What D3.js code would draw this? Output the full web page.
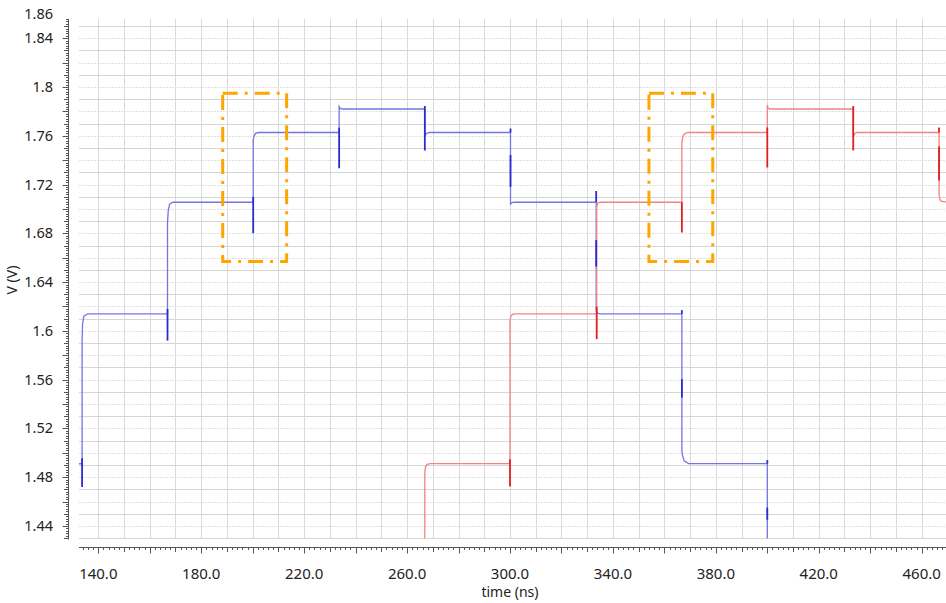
<!DOCTYPE html>
<html>
<head>
<meta charset="utf-8">
<script src="https://d3js.org/d3.v7.min.js"></script>
<style>
  html, body { margin: 0; padding: 0; background: #ffffff; }
  svg { display: block; font-family: "Noto Sans", "DejaVu Sans", sans-serif; }
</style>
</head>
<body>
<div id="chart"></div>
<script>
// Transient sim: two staircase node voltages, V vs time (ns).

// Tick labels
var xTickVals = [140, 180, 220, 260, 300, 340, 380, 420, 460];
var yTickVals = [1.44, 1.48, 1.52, 1.56, 1.6, 1.64, 1.68, 1.72, 1.76, 1.8, 1.84, 1.86];

// Blue trace (time ns, volts)
var blueT = [132.5, 133.7, 133.7, 133.9, 134.4, 136.0,
             166.9, 166.9, 167.2, 167.7, 169.0,
             200.2, 200.2, 200.5, 201.1, 202.2,
             233.6, 233.6, 234.0, 235.0,
             266.9, 266.9, 267.3, 268.5,
             300.2, 300.2, 300.6, 301.5,
             333.5, 333.5, 333.9, 335.0,
             366.8, 366.8, 367.1, 367.7, 369.4,
             400.0, 400.0];
var blueV = [1.491, 1.491, 1.593, 1.606, 1.612, 1.614,
             1.614, 1.6886, 1.699, 1.704, 1.7055,
             1.7055, 1.7567, 1.7595, 1.762, 1.7627,
             1.7627, 1.784, 1.7825, 1.782,
             1.782, 1.7591, 1.7615, 1.7627,
             1.7627, 1.704, 1.705, 1.7055,
             1.7055, 1.6165, 1.6145, 1.614,
             1.614, 1.501, 1.4975, 1.4934, 1.4911,
             1.4911, 1.40];

// Blue glitches at each switch: [time, low, high]
var blueSpikes = [
  [133.7, 1.472, 1.4955],
  [166.9, 1.592, 1.618],
  [200.2, 1.680, 1.710],
  [233.6, 1.7334, 1.7667],
  [266.9, 1.748, 1.7845],
  [300.2, 1.7627, 1.766],
  [300.2, 1.7183, 1.7443],
  [333.5, 1.7055, 1.7148],
  [333.5, 1.6527, 1.6746],
  [366.8, 1.614, 1.617],
  [366.8, 1.5453, 1.5604],
  [400.0, 1.4911, 1.494],
  [400.0, 1.445, 1.455]
];

// Red trace
var redT = [266.9, 266.9, 267.2, 267.8, 269.0,
            300.0, 300.0, 300.3, 301.0, 302.0,
            333.7, 333.7, 334.2, 335.0,
            366.8, 366.8, 367.1, 367.7, 369.0,
            400.0, 400.0, 400.3, 401.2,
            433.4, 433.4, 433.8, 434.8,
            466.75, 466.75, 467.1, 467.8, 469.5];
var redV = [1.40, 1.484, 1.4885, 1.4905, 1.4911,
            1.4911, 1.6085, 1.612, 1.6135, 1.614,
            1.614, 1.702, 1.705, 1.7055,
            1.7055, 1.754, 1.759, 1.7615, 1.7627,
            1.7627, 1.7853, 1.7825, 1.782,
            1.782, 1.7591, 1.7615, 1.7627,
            1.7627, 1.712, 1.7075, 1.7062, 1.7058];

var redSpikes = [
  [300.0, 1.4723, 1.4947],
  [333.7, 1.5932, 1.6199],
  [366.8, 1.6806, 1.7055],
  [400.0, 1.734, 1.7668],
  [433.4, 1.748, 1.7845],
  [466.75, 1.7627, 1.7668],
  [466.75, 1.7233, 1.7512]
];

// Orange highlight boxes: [t0, t1, v0, v1]
var boxes = [
  [188.35, 213.2, 1.6568, 1.795],
  [354.0, 378.8, 1.6568, 1.795]
];

var W = 946, H = 603;
var plot = { left: 79, right: 946, top: 19, bottom: 538.5 };

var x = d3.scaleLinear().domain([132.5, 469.45]).range([plot.left, plot.right]);
var y = d3.scaleLinear().domain([1.4297, 1.8558]).range([plot.bottom, plot.top]);

var svg = d3.select('#chart').append('svg')
  .attr('width', W)
  .attr('height', H);

svg.append('defs').append('clipPath').attr('id', 'clip')
  .append('rect')
  .attr('x', plot.left).attr('y', plot.top)
  .attr('width', plot.right - plot.left)
  .attr('height', plot.bottom - plot.top);

drawGrid();
drawAxes();
// light traces first, darker glitch marks on top of both
drawTrace(blueT, blueV, '#7474e4');
drawTrace(redT, redV, '#f08282');
drawSpikes(blueSpikes, '#2b2bd2');
drawSpikes(redSpikes, '#e01e1e');
drawBoxes();

function drawGrid(){
  var g = svg.append('g').attr('class', 'grid');
  // vertical every 10 ns
  var xs = d3.range(140, 470, 10);
  g.selectAll('line.v').data(xs).enter().append('line')
    .attr('x1', function(d){ return Math.round(x(d)) + 0.5; })
    .attr('x2', function(d){ return Math.round(x(d)) + 0.5; })
    .attr('y1', plot.top).attr('y2', plot.bottom)
    .attr('stroke', '#dadada').attr('stroke-width', 1);
  // horizontal every 0.01 V
  var ys = d3.range(143, 186, 1).map(function(k){ return k / 100; });
  g.selectAll('line.h').data(ys).enter().append('line')
    .attr('x1', plot.left).attr('x2', plot.right)
    .attr('y1', function(d){ return Math.round(y(d)) + 0.5; })
    .attr('y2', function(d){ return Math.round(y(d)) + 0.5; })
    .attr('stroke', function(d, i){ return i % 2 ? '#e0e0e0' : '#d6d6d6'; })
    .attr('stroke-dasharray', function(d, i){ return i % 2 ? '2,1' : null; })
    .attr('stroke-width', 1);
}

function drawAxes(){
  var axisColor = '#555';
  var xAxisY = 547.5, yAxisX = 68.5;

  // y axis: minor 0.002, mid 0.01, major 0.02
  var gy = svg.append('g');
  gy.append('line')
    .attr('x1', yAxisX).attr('x2', yAxisX)
    .attr('y1', plot.top).attr('y2', plot.bottom + 1)
    .attr('stroke', axisColor);
  var yMinor = d3.range(715, 929, 1).map(function(k){ return k / 500; });
  gy.selectAll('line.t').data(yMinor).enter().append('line')
    .attr('x1', yAxisX)
    .attr('x2', function(d, i){
      var k = Math.round(d * 500);
      if(k % 10 === 0) return yAxisX - 6;
      if(k % 5 === 0) return yAxisX - 4.5;
      return yAxisX - 2.5;
    })
    .attr('y1', function(d){ return Math.round(y(d)) + 0.5; })
    .attr('y2', function(d){ return Math.round(y(d)) + 0.5; })
    .attr('stroke', axisColor).attr('stroke-width', 1);
  gy.selectAll('text').data(yTickVals).enter().append('text')
    .attr('x', 53)
    .attr('y', function(d){ return y(d); })
    .attr('dy', '0.35em')
    .attr('text-anchor', 'end')
    .attr('font-size', '14.5px')
    .attr('fill', '#222')
    .text(d3.format('~g'));

  // x axis: minor 2 ns, mid 10, major 20
  var gx = svg.append('g');
  gx.append('line')
    .attr('x1', plot.left).attr('x2', plot.right)
    .attr('y1', xAxisY).attr('y2', xAxisY)
    .attr('stroke', axisColor);
  var xMinor = d3.range(134, 470, 2);
  gx.selectAll('line.t').data(xMinor).enter().append('line')
    .attr('x1', function(d){ return Math.round(x(d)) + 0.5; })
    .attr('x2', function(d){ return Math.round(x(d)) + 0.5; })
    .attr('y1', xAxisY)
    .attr('y2', function(d){
      if(d % 20 === 0) return xAxisY + 6;
      if(d % 10 === 0) return xAxisY + 4.5;
      return xAxisY + 2.5;
    })
    .attr('stroke', axisColor).attr('stroke-width', 1);
  gx.selectAll('text').data(xTickVals).enter().append('text')
    .attr('x', function(d){ return x(d); })
    .attr('y', 579)
    .attr('text-anchor', 'middle')
    .attr('font-size', '15px')
    .attr('fill', '#222')
    .text(d3.format('.1f'));

  svg.append('text')
    .attr('x', x(300)).attr('y', 597)
    .attr('text-anchor', 'middle')
    .attr('font-size', '14px')
    .attr('fill', '#222')
    .text('time (ns)');

  svg.append('text')
    .attr('transform', 'translate(17,280) rotate(-90)')
    .attr('text-anchor', 'middle')
    .attr('font-size', '14px')
    .attr('fill', '#222')
    .text('V (V)');
}

function drawTrace(ts, vs, color){
  var pts = ts.map(function(t, i){ return [t, vs[i]]; });
  var line = d3.line()
    .x(function(d){ return x(d[0]); })
    .y(function(d){ return y(d[1]); });
  svg.append('g').attr('clip-path', 'url(#clip)')
    .append('path')
    .datum(pts)
    .attr('d', line)
    .attr('fill', 'none')
    .attr('stroke', color)
    .attr('stroke-width', 1.3);
}

function drawSpikes(spikes, color){
  svg.append('g').attr('clip-path', 'url(#clip)')
    .selectAll('line').data(spikes).enter().append('line')
    .attr('x1', function(d){ return x(d[0]); })
    .attr('x2', function(d){ return x(d[0]); })
    .attr('y1', function(d){ return y(d[1]); })
    .attr('y2', function(d){ return y(d[2]); })
    .attr('stroke', color)
    .attr('stroke-width', 1.8);
}

function drawBoxes(){
  svg.selectAll('rect.box').data(boxes).enter().append('rect')
    .attr('x', function(d){ return x(d[0]); })
    .attr('y', function(d){ return y(d[3]); })
    .attr('width', function(d){ return x(d[1]) - x(d[0]); })
    .attr('height', function(d){ return y(d[2]) - y(d[3]); })
    .attr('fill', 'none')
    .attr('stroke', '#ffa500')
    .attr('stroke-width', 3)
    .attr('stroke-dasharray', '15,7,3,7');
}
</script>
</body>
</html>
